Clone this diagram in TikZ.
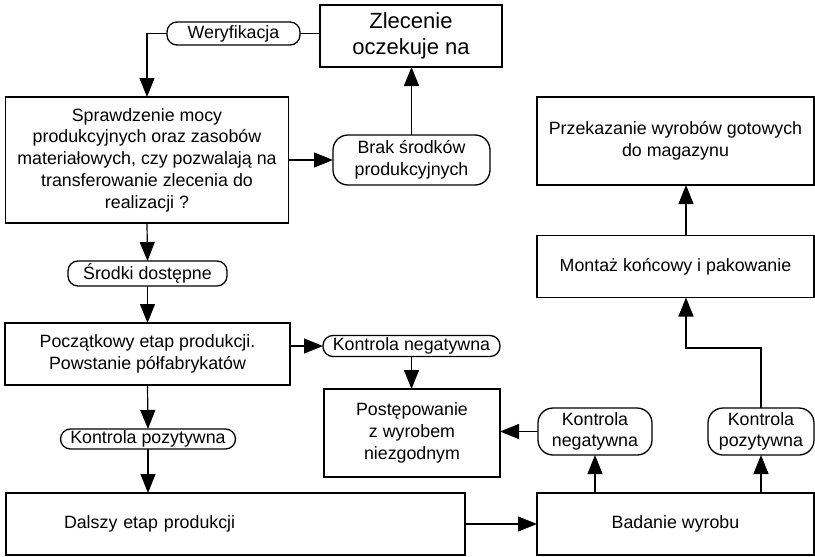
\documentclass[tikz,border=0pt]{standalone}
\usepackage{fontspec}
\setmainfont{Liberation Sans}
\usetikzlibrary{arrows.meta}
\begin{document}
\begin{tikzpicture}[x=1pt,y=-1pt,
 box/.style={draw,line width=1.3pt,inner sep=0pt,outer sep=0pt,align=center,font=\fontsize{17.8}{21.7}\selectfont},
 pill/.style={box,rounded corners=#1},
 pill/.default=10pt,
 arr/.style={line width=1.2pt,-{Triangle[length=19pt,width=15pt]}},
 ln/.style={line width=1.2pt}]
\useasboundingbox (0,0) rectangle (815,557);
\node[box,minimum width=182pt,minimum height=62pt,font=\fontsize{22}{25.5}\selectfont] (zlec) at (411,36) {Zlecenie\\oczekuje na};
\node[pill,minimum width=133pt,minimum height=23pt] (wer) at (233.5,33.5) {Weryfikacja};
\node[box,minimum width=283pt,minimum height=126pt] (spr) at (147,160) {Sprawdzenie mocy\\produkcyjnych oraz zasobów\\materiałowych, czy pozwalają na\\transferowanie zlecenia do\\realizacji ?};
\node[pill=15pt,minimum width=157pt,minimum height=50pt] (brak) at (411.5,160) {Brak środków\\produkcyjnych};
\node[pill,minimum width=159pt,minimum height=25pt] (srod) at (147.5,273.5) {Środki dostępne};
\node[box,minimum width=285pt,minimum height=62pt] (pocz) at (147.5,354) {Początkowy etap produkcji.\\Powstanie półfabrykatów};
\node[pill,minimum width=177pt,minimum height=21pt] (kneg1) at (411.5,346) {Kontrola negatywna};
\node[box,minimum width=176pt,minimum height=88pt] (post) at (412,433) {Postępowanie\\z wyrobem\\niezgodnym};
\node[pill=15pt,minimum width=114pt,minimum height=47pt] (kneg2) at (595,431.5) {Kontrola\\negatywna};
\node[pill=15pt,minimum width=106pt,minimum height=47pt] (kpoz2) at (761,431.5) {Kontrola\\pozytywna};
\node[pill,minimum width=175pt,minimum height=20pt] (kpoz1) at (148,439) {Kontrola pozytywna};
\node[box,anchor=west,text width=343pt,inner xsep=58pt,minimum height=62pt,align=left] (dal) at (6,524) {Dalszy etap produkcji};
\node[box,minimum width=277pt,minimum height=62pt] (bad) at (675.5,524) {Badanie wyrobu};
\node[box,minimum width=277pt,minimum height=88pt] (prz) at (675.5,141) {Przekazanie wyrobów gotowych\\do magazynu};
\node[box,minimum width=277pt,minimum height=62pt] (mont) at (675.5,266.5) {Montaż końcowy i pakowanie};
\coordinate (turn) at (686,348);
\draw[ln] (wer.east) -- (wer.east -| zlec.west);
\draw[arr] (wer.west) -| (spr.north);
\draw[arr] (brak.west -| spr.east) -- (brak.west);
\draw[arr] (brak.north) -- (brak.north |- zlec.south);
\draw[arr] (spr.south) -- (srod.north);
\draw[arr] (srod.south) -- (pocz.north);
\draw[arr] (kneg1.west -| pocz.east) -- (kneg1.west);
\draw[arr] (kneg1.south) -- (kneg1.south |- post.north);
\draw[arr] (pocz.south) -- (kpoz1.north);
\draw[arr] (kpoz1.south) -- (kpoz1.south |- dal.north);
\draw[arr] (dal.east) -- (dal.east -| bad.west);
\draw[arr] (bad.north -| kneg2.south) -- (kneg2.south);
\draw[arr] (bad.north -| kpoz2.south) -- (kpoz2.south);
\draw[arr] (kneg2.west) -- (kneg2.west -| post.east);
\draw[arr] (kpoz2.north) |- (turn) -- (turn |- mont.south);
\draw[arr] (turn |- mont.north) -- (turn |- prz.south);
\end{tikzpicture}
\end{document}
